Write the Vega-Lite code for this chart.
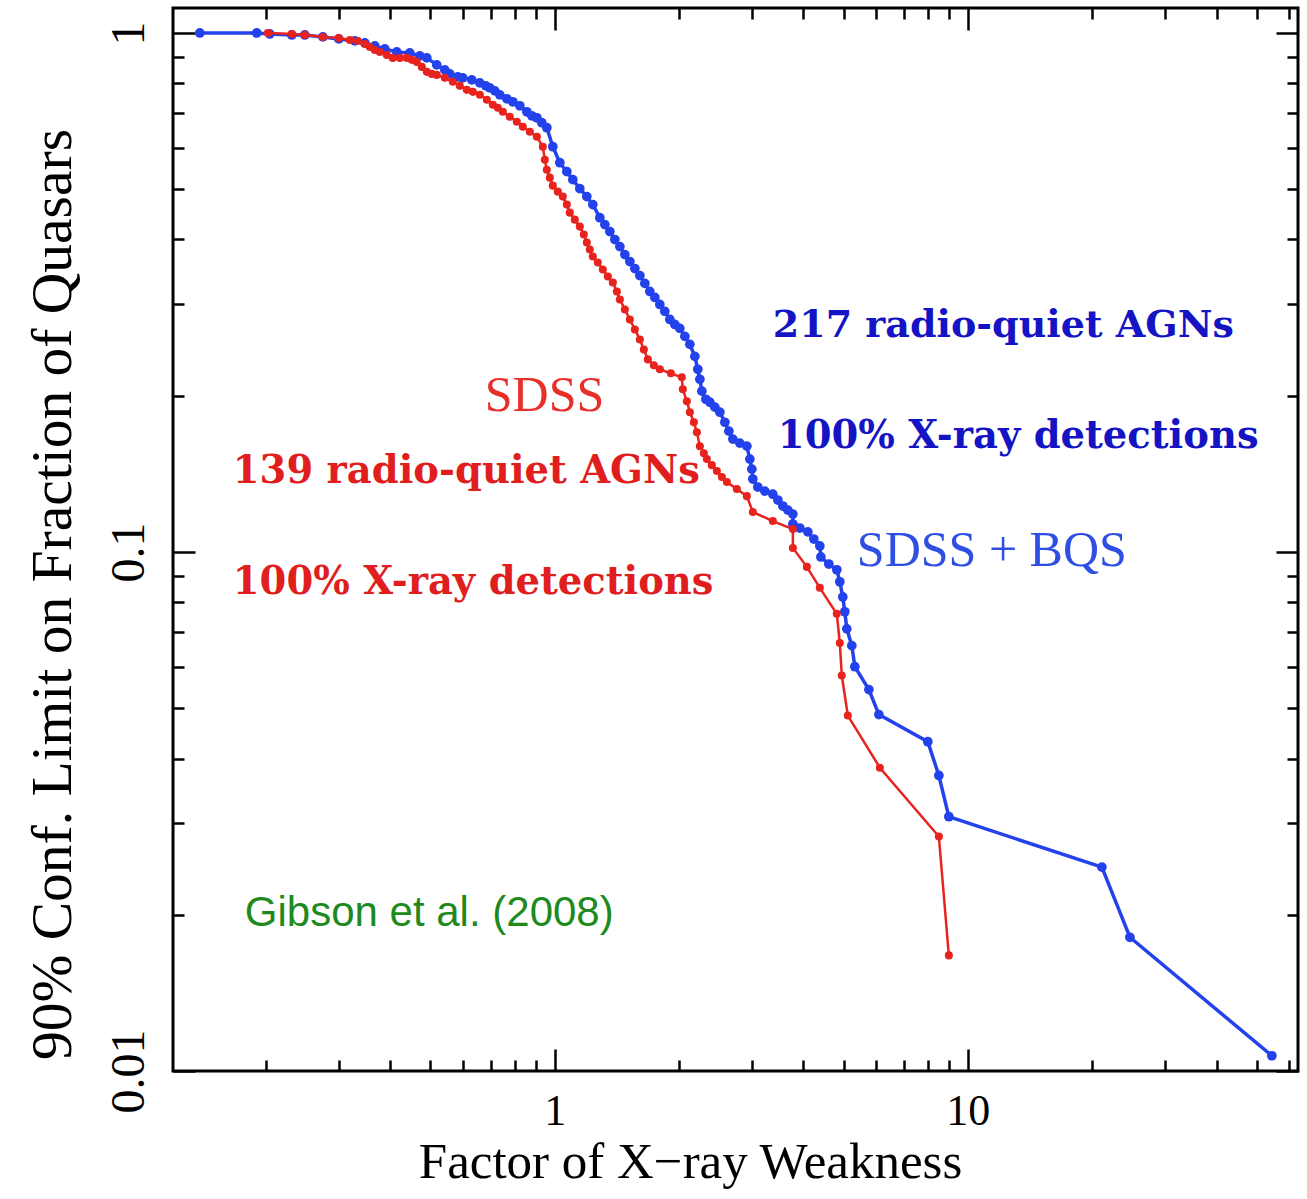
{
  "$schema": "https://vega.github.io/schema/vega-lite/v6.json",
  "background": "white",
  "autosize": {"type": "none"},
  "padding": {"left": 173, "top": 8, "right": 9, "bottom": 128},
  "width": 1125,
  "height": 1063,
  "config": {
    "view": {"stroke": "black", "strokeWidth": 3},
    "axis": {"grid": false, "domain": false, "tickColor": "black", "tickWidth": 2.5, "labelOverlap": false, "labelFlush": false, "labelBound": false}
  },
  "datasets": {
    "blue": [
      {"weakness": 0.1382, "fraction": 1.0},
      {"weakness": 0.1898, "fraction": 1.0},
      {"weakness": 0.2041, "fraction": 0.9956},
      {"weakness": 0.2308, "fraction": 0.9912},
      {"weakness": 0.2481, "fraction": 0.9912},
      {"weakness": 0.2744, "fraction": 0.9825},
      {"weakness": 0.2999, "fraction": 0.9738},
      {"weakness": 0.3280, "fraction": 0.9652},
      {"weakness": 0.3467, "fraction": 0.9567},
      {"weakness": 0.3666, "fraction": 0.9441},
      {"weakness": 0.3876, "fraction": 0.9316},
      {"weakness": 0.4143, "fraction": 0.9193},
      {"weakness": 0.4455, "fraction": 0.9153},
      {"weakness": 0.4711, "fraction": 0.9032},
      {"weakness": 0.4898, "fraction": 0.8952},
      {"weakness": 0.5178, "fraction": 0.8678},
      {"weakness": 0.5415, "fraction": 0.8488},
      {"weakness": 0.5568, "fraction": 0.8339},
      {"weakness": 0.5822, "fraction": 0.8230},
      {"weakness": 0.5986, "fraction": 0.8194},
      {"weakness": 0.6295, "fraction": 0.8122},
      {"weakness": 0.6583, "fraction": 0.8013},
      {"weakness": 0.6807, "fraction": 0.7908},
      {"weakness": 0.6961, "fraction": 0.7838},
      {"weakness": 0.7157, "fraction": 0.7735},
      {"weakness": 0.7359, "fraction": 0.7599},
      {"weakness": 0.7653, "fraction": 0.7466},
      {"weakness": 0.7912, "fraction": 0.7368},
      {"weakness": 0.8228, "fraction": 0.7239},
      {"weakness": 0.8555, "fraction": 0.7049},
      {"weakness": 0.8797, "fraction": 0.6925},
      {"weakness": 0.9045, "fraction": 0.6864},
      {"weakness": 0.9300, "fraction": 0.6714},
      {"weakness": 0.9563, "fraction": 0.6567},
      {"weakness": 0.9889, "fraction": 0.6037},
      {"weakness": 1.0283, "fraction": 0.5623},
      {"weakness": 1.0693, "fraction": 0.5404},
      {"weakness": 1.1055, "fraction": 0.5216},
      {"weakness": 1.1495, "fraction": 0.5012},
      {"weakness": 1.1952, "fraction": 0.4838},
      {"weakness": 1.2359, "fraction": 0.4669},
      {"weakness": 1.2853, "fraction": 0.4406},
      {"weakness": 1.3216, "fraction": 0.4273},
      {"weakness": 1.3590, "fraction": 0.4143},
      {"weakness": 1.3975, "fraction": 0.3999},
      {"weakness": 1.4370, "fraction": 0.3876},
      {"weakness": 1.4776, "fraction": 0.3741},
      {"weakness": 1.5193, "fraction": 0.3627},
      {"weakness": 1.5622, "fraction": 0.3516},
      {"weakness": 1.6064, "fraction": 0.3409},
      {"weakness": 1.6518, "fraction": 0.3292},
      {"weakness": 1.6982, "fraction": 0.3176},
      {"weakness": 1.7464, "fraction": 0.3093},
      {"weakness": 1.7956, "fraction": 0.2998},
      {"weakness": 1.8463, "fraction": 0.2907},
      {"weakness": 1.8990, "fraction": 0.2805},
      {"weakness": 1.9523, "fraction": 0.2744},
      {"weakness": 2.0074, "fraction": 0.2696},
      {"weakness": 2.0645, "fraction": 0.2603},
      {"weakness": 2.1229, "fraction": 0.2512},
      {"weakness": 2.1827, "fraction": 0.2381},
      {"weakness": 2.2190, "fraction": 0.2249},
      {"weakness": 2.2447, "fraction": 0.2151},
      {"weakness": 2.2697, "fraction": 0.2041},
      {"weakness": 2.3210, "fraction": 0.1969},
      {"weakness": 2.3732, "fraction": 0.1943},
      {"weakness": 2.4403, "fraction": 0.1901},
      {"weakness": 2.5093, "fraction": 0.1859},
      {"weakness": 2.5802, "fraction": 0.1778},
      {"weakness": 2.6385, "fraction": 0.1709},
      {"weakness": 2.6977, "fraction": 0.1650},
      {"weakness": 2.8048, "fraction": 0.1621},
      {"weakness": 2.9168, "fraction": 0.1599},
      {"weakness": 2.9663, "fraction": 0.1510},
      {"weakness": 2.9992, "fraction": 0.1444},
      {"weakness": 3.0159, "fraction": 0.1382},
      {"weakness": 3.1007, "fraction": 0.1334},
      {"weakness": 3.2245, "fraction": 0.1310},
      {"weakness": 3.3714, "fraction": 0.1292},
      {"weakness": 3.4674, "fraction": 0.1259},
      {"weakness": 3.5654, "fraction": 0.1226},
      {"weakness": 3.6662, "fraction": 0.1204},
      {"weakness": 3.7700, "fraction": 0.1183},
      {"weakness": 3.7701, "fraction": 0.1132},
      {"weakness": 3.9193, "fraction": 0.1112},
      {"weakness": 4.0983, "fraction": 0.1093},
      {"weakness": 4.2377, "fraction": 0.1059},
      {"weakness": 4.3815, "fraction": 0.1027},
      {"weakness": 4.4068, "fraction": 0.0978},
      {"weakness": 4.6062, "fraction": 0.0948},
      {"weakness": 4.8163, "fraction": 0.0924},
      {"weakness": 4.8979, "fraction": 0.0876},
      {"weakness": 4.9799, "fraction": 0.0819},
      {"weakness": 5.0362, "fraction": 0.0767},
      {"weakness": 5.0929, "fraction": 0.0711},
      {"weakness": 5.2371, "fraction": 0.0660},
      {"weakness": 5.3259, "fraction": 0.0601},
      {"weakness": 5.7592, "fraction": 0.0543},
      {"weakness": 6.0894, "fraction": 0.0486},
      {"weakness": 8.0000, "fraction": 0.0431},
      {"weakness": 8.5075, "fraction": 0.0371},
      {"weakness": 8.9950, "fraction": 0.0309},
      {"weakness": 21.11, "fraction": 0.0247},
      {"weakness": 24.68, "fraction": 0.0181},
      {"weakness": 54.46, "fraction": 0.0107}
    ],
    "red": [
      {"weakness": 0.2019, "fraction": 1.0},
      {"weakness": 0.2308, "fraction": 0.9956},
      {"weakness": 0.2481, "fraction": 0.9912},
      {"weakness": 0.2744, "fraction": 0.9825},
      {"weakness": 0.2999, "fraction": 0.9781},
      {"weakness": 0.3189, "fraction": 0.9694},
      {"weakness": 0.3334, "fraction": 0.9652},
      {"weakness": 0.3467, "fraction": 0.9524},
      {"weakness": 0.3565, "fraction": 0.9399},
      {"weakness": 0.3666, "fraction": 0.9275},
      {"weakness": 0.3770, "fraction": 0.9193},
      {"weakness": 0.3919, "fraction": 0.9072},
      {"weakness": 0.4052, "fraction": 0.8952},
      {"weakness": 0.4214, "fraction": 0.8952},
      {"weakness": 0.4381, "fraction": 0.8952},
      {"weakness": 0.4506, "fraction": 0.8874},
      {"weakness": 0.4633, "fraction": 0.8795},
      {"weakness": 0.4764, "fraction": 0.8602},
      {"weakness": 0.4898, "fraction": 0.8414},
      {"weakness": 0.5036, "fraction": 0.8339},
      {"weakness": 0.5178, "fraction": 0.8302},
      {"weakness": 0.5415, "fraction": 0.8194},
      {"weakness": 0.5662, "fraction": 0.8050},
      {"weakness": 0.5888, "fraction": 0.7908},
      {"weakness": 0.6122, "fraction": 0.7769},
      {"weakness": 0.6332, "fraction": 0.7700},
      {"weakness": 0.6583, "fraction": 0.7599},
      {"weakness": 0.6846, "fraction": 0.7433},
      {"weakness": 0.7078, "fraction": 0.7271},
      {"weakness": 0.7278, "fraction": 0.7175},
      {"weakness": 0.7484, "fraction": 0.7049},
      {"weakness": 0.7780, "fraction": 0.6895},
      {"weakness": 0.8091, "fraction": 0.6744},
      {"weakness": 0.8366, "fraction": 0.6596},
      {"weakness": 0.8700, "fraction": 0.6452},
      {"weakness": 0.9045, "fraction": 0.6310},
      {"weakness": 0.9353, "fraction": 0.6037},
      {"weakness": 0.9458, "fraction": 0.5699},
      {"weakness": 0.9563, "fraction": 0.5452},
      {"weakness": 0.9725, "fraction": 0.5263},
      {"weakness": 0.9889, "fraction": 0.5079},
      {"weakness": 1.0169, "fraction": 0.4946},
      {"weakness": 1.0457, "fraction": 0.4838},
      {"weakness": 1.0693, "fraction": 0.4669},
      {"weakness": 1.0872, "fraction": 0.4506},
      {"weakness": 1.1179, "fraction": 0.4368},
      {"weakness": 1.1495, "fraction": 0.4235},
      {"weakness": 1.1755, "fraction": 0.4088},
      {"weakness": 1.1952, "fraction": 0.3946},
      {"weakness": 1.2154, "fraction": 0.3825},
      {"weakness": 1.2359, "fraction": 0.3708},
      {"weakness": 1.2708, "fraction": 0.3611},
      {"weakness": 1.3068, "fraction": 0.3500},
      {"weakness": 1.3438, "fraction": 0.3394},
      {"weakness": 1.3818, "fraction": 0.3305},
      {"weakness": 1.4130, "fraction": 0.3176},
      {"weakness": 1.4370, "fraction": 0.3066},
      {"weakness": 1.4776, "fraction": 0.2933},
      {"weakness": 1.5193, "fraction": 0.2805},
      {"weakness": 1.5622, "fraction": 0.2684},
      {"weakness": 1.6064, "fraction": 0.2567},
      {"weakness": 1.6427, "fraction": 0.2456},
      {"weakness": 1.6797, "fraction": 0.2350},
      {"weakness": 1.7366, "fraction": 0.2289},
      {"weakness": 1.7956, "fraction": 0.2249},
      {"weakness": 1.9096, "fraction": 0.2209},
      {"weakness": 2.0299, "fraction": 0.2170},
      {"weakness": 2.0412, "fraction": 0.2058},
      {"weakness": 2.0875, "fraction": 0.1951},
      {"weakness": 2.1229, "fraction": 0.1859},
      {"weakness": 2.1710, "fraction": 0.1778},
      {"weakness": 2.2073, "fraction": 0.1701},
      {"weakness": 2.2447, "fraction": 0.1599},
      {"weakness": 2.2954, "fraction": 0.1550},
      {"weakness": 2.3336, "fraction": 0.1510},
      {"weakness": 2.3996, "fraction": 0.1470},
      {"weakness": 2.4680, "fraction": 0.1432},
      {"weakness": 2.5378, "fraction": 0.1394},
      {"weakness": 2.6095, "fraction": 0.1364},
      {"weakness": 2.7587, "fraction": 0.1322},
      {"weakness": 2.9168, "fraction": 0.1281},
      {"weakness": 3.0159, "fraction": 0.1194},
      {"weakness": 3.3714, "fraction": 0.1147},
      {"weakness": 3.7700, "fraction": 0.1107},
      {"weakness": 3.7701, "fraction": 0.1018},
      {"weakness": 4.0757, "fraction": 0.0936},
      {"weakness": 4.3815, "fraction": 0.0853},
      {"weakness": 4.8163, "fraction": 0.0760},
      {"weakness": 4.8979, "fraction": 0.0668},
      {"weakness": 4.9524, "fraction": 0.0578},
      {"weakness": 5.1213, "fraction": 0.0484},
      {"weakness": 6.1233, "fraction": 0.0384},
      {"weakness": 8.5075, "fraction": 0.0283},
      {"weakness": 8.9950, "fraction": 0.0167}
    ],
    "notes": [
      {"label": "217 radio-quiet AGNs", "sample": "SDSS+BQS", "weakness": 3.371, "fraction": 0.272},
      {"label": "100% X-ray detections", "sample": "SDSS+BQS", "weakness": 3.467, "fraction": 0.1671},
      {"label": "SDSS + BQS", "sample": "SDSS+BQS", "weakness": 5.386, "fraction": 0.1005},
      {"label": "SDSS", "sample": "SDSS", "weakness": 0.6768, "fraction": 0.1995},
      {"label": "139 radio-quiet AGNs", "sample": "SDSS", "weakness": 0.1661, "fraction": 0.1432},
      {"label": "100% X-ray detections", "sample": "SDSS", "weakness": 0.1661, "fraction": 0.0876},
      {"label": "Gibson et al. (2008)", "sample": "reference", "weakness": 0.1776, "fraction": 0.02013}
    ]
  },
  "resolve": {"axis": {"x": "independent", "y": "independent"}},
  "layer": [
    {
      "data": {"name": "notes"},
      "transform": [{"filter": "datum.label == '217 radio-quiet AGNs'"}],
      "mark": {"type": "text", "align": "left", "baseline": "middle", "font": "DejaVu Serif", "fontWeight": "bold", "fontSize": 38, "color": "#1414c4"},
      "encoding": {
        "x": {"field": "weakness", "type": "quantitative", "scale": {"type": "log", "domain": [0.119, 63], "nice": false},
              "axis": {"orient": "bottom", "values": [0.2,0.3,0.4,0.5,0.6,0.7,0.8,0.9,2,3,4,5,6,7,8,9,20,30,40,50,60], "labels": false, "tickSize": -11, "title": null}},
        "y": {"field": "fraction", "type": "quantitative", "scale": {"type": "log", "domain": [0.01, 1.117], "nice": false},
              "axis": {"orient": "left", "values": [0.02,0.03,0.04,0.05,0.06,0.07,0.08,0.09,0.2,0.3,0.4,0.5,0.6,0.7,0.8,0.9], "labels": false, "tickSize": -11, "title": null}},
        "text": {"field": "label"}
      }
    },
    {
      "data": {"name": "notes"},
      "transform": [{"filter": "datum.label == '100% X-ray detections' && datum.sample == 'SDSS+BQS'"}],
      "mark": {"type": "text", "align": "left", "baseline": "middle", "font": "DejaVu Serif", "fontWeight": "bold", "fontSize": 38.5, "color": "#1414c4"},
      "encoding": {
        "x": {"field": "weakness", "type": "quantitative", "scale": {"type": "log", "domain": [0.119, 63], "nice": false},
              "axis": {"orient": "top", "values": [0.2,0.3,0.4,0.5,0.6,0.7,0.8,0.9,2,3,4,5,6,7,8,9,20,30,40,50,60], "labels": false, "tickSize": -11, "title": null}},
        "y": {"field": "fraction", "type": "quantitative", "scale": {"type": "log", "domain": [0.01, 1.117], "nice": false},
              "axis": {"orient": "right", "values": [0.02,0.03,0.04,0.05,0.06,0.07,0.08,0.09,0.2,0.3,0.4,0.5,0.6,0.7,0.8,0.9], "labels": false, "tickSize": -11, "title": null}},
        "text": {"field": "label"}
      }
    },
    {
      "data": {"name": "notes"},
      "transform": [{"filter": "datum.label == 'SDSS + BQS'"}],
      "mark": {"type": "text", "align": "left", "baseline": "middle", "font": "Liberation Serif", "fontSize": 50, "color": "#2f4fe2"},
      "encoding": {
        "x": {"field": "weakness", "type": "quantitative", "scale": {"type": "log", "domain": [0.119, 63], "nice": false}, "axis": null},
        "y": {"field": "fraction", "type": "quantitative", "scale": {"type": "log", "domain": [0.01, 1.117], "nice": false}, "axis": null},
        "text": {"field": "label"}
      }
    },
    {
      "data": {"name": "notes"},
      "transform": [{"filter": "datum.label == 'SDSS'"}],
      "mark": {"type": "text", "align": "left", "baseline": "middle", "font": "Liberation Serif", "fontSize": 50, "color": "#e8302a"},
      "encoding": {
        "x": {"field": "weakness", "type": "quantitative", "scale": {"type": "log", "domain": [0.119, 63], "nice": false}, "axis": null},
        "y": {"field": "fraction", "type": "quantitative", "scale": {"type": "log", "domain": [0.01, 1.117], "nice": false}, "axis": null},
        "text": {"field": "label"}
      }
    },
    {
      "data": {"name": "notes"},
      "transform": [{"filter": "datum.sample == 'SDSS' && datum.label != 'SDSS'"}],
      "mark": {"type": "text", "align": "left", "baseline": "middle", "font": "DejaVu Serif", "fontWeight": "bold", "fontSize": 38.5, "color": "#e01e1e"},
      "encoding": {
        "x": {"field": "weakness", "type": "quantitative", "scale": {"type": "log", "domain": [0.119, 63], "nice": false}, "axis": null},
        "y": {"field": "fraction", "type": "quantitative", "scale": {"type": "log", "domain": [0.01, 1.117], "nice": false}, "axis": null},
        "text": {"field": "label"}
      }
    },
    {
      "data": {"name": "notes"},
      "transform": [{"filter": "datum.sample == 'reference'"}],
      "mark": {"type": "text", "align": "left", "baseline": "middle", "font": "Liberation Sans", "fontSize": 42, "color": "#1e8a1e"},
      "encoding": {
        "x": {"field": "weakness", "type": "quantitative", "scale": {"type": "log", "domain": [0.119, 63], "nice": false}, "axis": null},
        "y": {"field": "fraction", "type": "quantitative", "scale": {"type": "log", "domain": [0.01, 1.117], "nice": false}, "axis": null},
        "text": {"field": "label"}
      }
    },
    {
      "data": {"name": "blue"},
      "mark": {"type": "line", "color": "#2342ec", "strokeWidth": 3.5, "point": {"filled": true, "size": 95, "color": "#2342ec"}},
      "encoding": {
        "x": {"field": "weakness", "type": "quantitative", "scale": {"type": "log", "domain": [0.119, 63], "nice": false},
              "axis": {"orient": "bottom", "values": [1, 10], "format": "~g", "tickSize": -22, "labelFont": "Liberation Serif", "labelFontSize": 44, "labelColor": "black", "labelPadding": 40,
                       "title": "Factor of X−ray Weakness", "titleFont": "Liberation Serif", "titleFontSize": 51, "titleFontWeight": "normal", "titleColor": "black", "titlePadding": 4, "titleX": 517}},
        "y": {"field": "fraction", "type": "quantitative", "scale": {"type": "log", "domain": [0.01, 1.117], "nice": false},
              "axis": {"orient": "left", "values": [0.01, 0.1, 1], "format": "~g", "tickSize": -22, "labelFont": "Liberation Serif", "labelFontSize": 48, "labelColor": "black", "labelAngle": 270, "labelAlign": "center", "labelBaseline": "bottom", "labelPadding": 42,
                       "title": "90% Conf. Limit on Fraction of Quasars", "titleFont": "Liberation Serif", "titleFontSize": 57.5, "titleFontWeight": "normal", "titleColor": "black", "titlePadding": 23, "titleY": 586}},
        "order": {"field": "weakness", "type": "quantitative"}
      }
    },
    {
      "data": {"name": "red"},
      "mark": {"type": "line", "color": "#e8231d", "strokeWidth": 2.5, "point": {"filled": true, "size": 65, "color": "#e8231d"}},
      "encoding": {
        "x": {"field": "weakness", "type": "quantitative", "scale": {"type": "log", "domain": [0.119, 63], "nice": false},
              "axis": {"orient": "top", "values": [1, 10], "labels": false, "tickSize": -22, "title": null}},
        "y": {"field": "fraction", "type": "quantitative", "scale": {"type": "log", "domain": [0.01, 1.117], "nice": false},
              "axis": {"orient": "right", "values": [0.01, 0.1, 1], "labels": false, "tickSize": -22, "title": null}},
        "order": {"field": "weakness", "type": "quantitative"}
      }
    }
  ]
}
